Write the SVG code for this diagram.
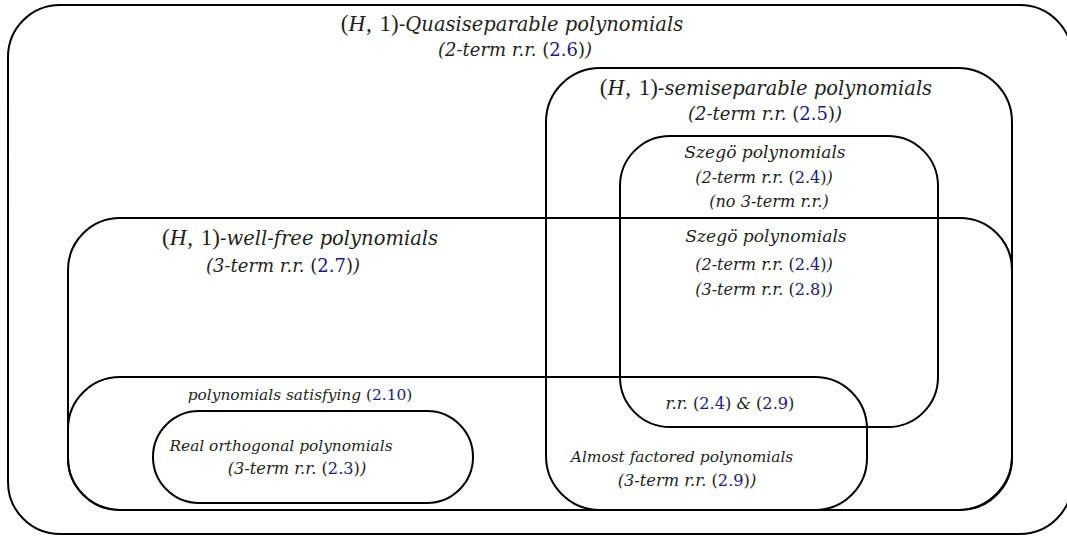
<svg xmlns="http://www.w3.org/2000/svg" width="1067" height="536" viewBox="0 0 1067 536">
  <style>
    .box { fill: none; stroke: #000; stroke-width: 2; }
    .t { font-family: "DejaVu Serif", "Liberation Serif", serif; font-style: italic; fill: #231f20; text-anchor: middle; }
    .up { font-style: normal; }
    .ref { font-style: normal; fill: #1d1a87; }
    .m { font-family: "Liberation Serif", serif; font-style: normal; font-size: 23px; }
    .mi { font-family: "Liberation Serif", serif; font-style: italic; font-size: 23px; }
    .h { font-size: 19.5px; }
    .p { font-size: 18px; }
    .sz { font-size: 17.1px; }
    .szp { font-size: 16.1px; }
    .lo { font-size: 15.4px; }
    .lop { font-size: 16.2px; }
  </style>
  <rect width="1067" height="536" fill="#fff"/>

  <!-- (H,1)-quasiseparable: the enclosing set -->
  <g id="quasiseparable">
    <rect class="box" x="8" y="5" width="1064" height="529" rx="52"/>
    <text class="t h" x="512" y="31"><tspan class="m">(</tspan><tspan class="mi">H</tspan><tspan class="m" dx="1">, </tspan><tspan class="m" dx="2">1)</tspan>-Quasiseparable polynomials</text>
    <text class="t p" x="515" y="56">(2-term r.r. <tspan class="up">(</tspan><tspan class="ref">2.6</tspan><tspan class="up">)</tspan>)</text>
  </g>

  <!-- (H,1)-semiseparable -->
  <g id="semiseparable">
    <rect class="box" x="546" y="68" width="466" height="442" rx="54"/>
    <text class="t h" x="766" y="95"><tspan class="m">(</tspan><tspan class="mi">H</tspan><tspan class="m" dx="1">, </tspan><tspan class="m" dx="2">1)</tspan>-semiseparable polynomials</text>
    <text class="t p" x="765" y="120">(2-term r.r. <tspan class="up">(</tspan><tspan class="ref">2.5</tspan><tspan class="up">)</tspan>)</text>
  </g>

  <!-- Szegö polynomials -->
  <g id="szego">
    <rect class="box" x="620" y="136" width="318" height="291" rx="50"/>
    <text class="t sz" x="765" y="158">Szegö polynomials</text>
    <text class="t szp" x="764" y="183">(2-term r.r. <tspan class="up">(</tspan><tspan class="ref">2.4</tspan><tspan class="up">)</tspan>)</text>
    <text class="t szp" x="769" y="207">(no 3-term r.r.)</text>
  </g>

  <!-- (H,1)-well-free -->
  <g id="well-free">
    <rect class="box" x="68" y="218" width="944" height="292" rx="52"/>
    <text class="t h" x="300" y="245"><tspan class="m">(</tspan><tspan class="mi">H</tspan><tspan class="m" dx="1">, </tspan><tspan class="m" dx="2">1)</tspan>-well-free polynomials</text>
    <text class="t p" x="283" y="272">(3-term r.r. <tspan class="up">(</tspan><tspan class="ref">2.7</tspan><tspan class="up">)</tspan>)</text>
  </g>

  <!-- Szegö ∩ well-free -->
  <g id="szego-well-free">
    <text class="t sz" x="766" y="242">Szegö polynomials</text>
    <text class="t szp" x="764" y="270">(2-term r.r. <tspan class="up">(</tspan><tspan class="ref">2.4</tspan><tspan class="up">)</tspan>)</text>
    <text class="t szp" x="764" y="295">(3-term r.r. <tspan class="up">(</tspan><tspan class="ref">2.8</tspan><tspan class="up">)</tspan>)</text>
  </g>

  <!-- polynomials satisfying (2.10) -->
  <g id="satisfying-2-10">
    <rect class="box" x="68" y="377" width="799" height="133" rx="52"/>
    <text class="t lo" x="300" y="400">polynomials satisfying <tspan class="up">(</tspan><tspan class="ref">2.10</tspan><tspan class="up">)</tspan></text>
  </g>

  <!-- Real orthogonal polynomials -->
  <g id="real-orthogonal">
    <rect class="box" x="153" y="411" width="320" height="92" rx="46"/>
    <text class="t lo" x="281" y="451">Real orthogonal polynomials</text>
    <text class="t lop" x="297" y="474">(3-term r.r. <tspan class="up">(</tspan><tspan class="ref">2.3</tspan><tspan class="up">)</tspan>)</text>
  </g>

  <!-- Szegö ∩ (2.10) -->
  <g id="rr-2-4-2-9">
    <text class="t lop" x="730" y="409">r.r. <tspan class="up">(</tspan><tspan class="ref">2.4</tspan><tspan class="up">)</tspan> &amp; <tspan class="up">(</tspan><tspan class="ref">2.9</tspan><tspan class="up">)</tspan></text>
  </g>

  <!-- Almost factored polynomials -->
  <g id="almost-factored">
    <text class="t lo" x="682" y="462">Almost factored polynomials</text>
    <text class="t lop" x="687" y="486">(3-term r.r. <tspan class="up">(</tspan><tspan class="ref">2.9</tspan><tspan class="up">)</tspan>)</text>
  </g>
</svg>
